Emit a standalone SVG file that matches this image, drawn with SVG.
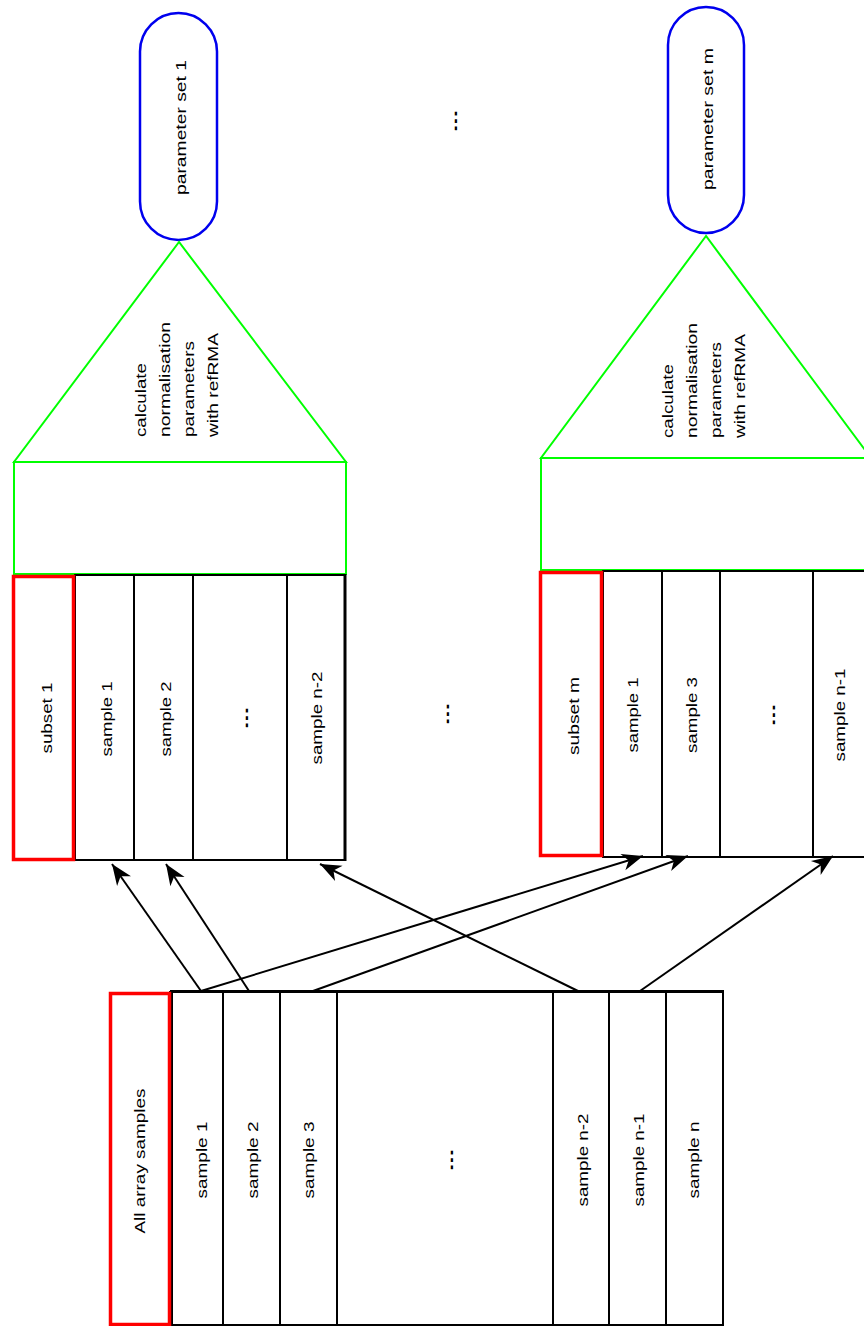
<svg xmlns="http://www.w3.org/2000/svg" width="864" height="1326" viewBox="0 0 864 1326">
<style>
text{font-family:"Liberation Sans",Arial,sans-serif;font-size:15px;fill:#000}
.c{text-anchor:middle}
.s{text-anchor:start}
.dots{font-weight:bold;text-anchor:middle}
.cell{fill:#fff;stroke:#000;stroke-width:2}
.red{fill:#fff;stroke:#f00;stroke-width:3.5}
.grn{fill:#fff;stroke:#00ff00;stroke-width:2}
.blu{fill:#fff;stroke:#0000ee;stroke-width:2.5}
.arr{fill:none;stroke:#000;stroke-width:2;marker-end:url(#ah)}
</style>
<defs>
<marker id="ah" markerUnits="userSpaceOnUse" markerWidth="26" markerHeight="22" viewBox="-23 -11 26 22" refX="0" refY="0" orient="auto">
<path d="M0,0 L-21,-8.5 L-15,0 L-21,8.5 Z" fill="#000"/>
</marker>
</defs>
<rect width="864" height="1326" fill="#fff"/>

<g id="param1">
<rect class="blu" x="140" y="13" width="77" height="227" rx="38.5"/>
<text class="c" transform="translate(186,127.5) rotate(-90)" textLength="135" lengthAdjust="spacingAndGlyphs">parameter set 1</text>
</g>
<g id="paramm">
<rect class="blu" x="668" y="7" width="76" height="226" rx="38"/>
<text class="c" transform="translate(713,119) rotate(-90)" textLength="142" lengthAdjust="spacingAndGlyphs">parameter set m</text>
</g>
<g id="dots-top"><text class="dots" transform="translate(457,121) rotate(-90)" textLength="22" lengthAdjust="spacingAndGlyphs">...</text></g>

<g id="calc1">
<polygon class="grn" points="179,242 14,462 346,462"/>
<rect class="grn" x="14" y="462" width="332" height="112"/>
<g transform="translate(146,437) rotate(-90)">
<text class="s" x="0" y="0" textLength="74" lengthAdjust="spacingAndGlyphs">calculate</text>
<text class="s" x="0" y="24" textLength="115" lengthAdjust="spacingAndGlyphs">normalisation</text>
<text class="s" x="0" y="48" textLength="96" lengthAdjust="spacingAndGlyphs">parameters</text>
<text class="s" x="0" y="72" textLength="104" lengthAdjust="spacingAndGlyphs">with refRMA</text>
</g>
</g>
<g id="calcm">
<polygon class="grn" points="706,236 541,458 871,458"/>
<rect class="grn" x="541" y="458" width="332" height="112"/>
<g transform="translate(673,438) rotate(-90)">
<text class="s" x="0" y="0" textLength="74" lengthAdjust="spacingAndGlyphs">calculate</text>
<text class="s" x="0" y="24" textLength="115" lengthAdjust="spacingAndGlyphs">normalisation</text>
<text class="s" x="0" y="48" textLength="96" lengthAdjust="spacingAndGlyphs">parameters</text>
<text class="s" x="0" y="72" textLength="104" lengthAdjust="spacingAndGlyphs">with refRMA</text>
</g>
</g>

<g id="subset1">
<rect class="cell" x="75" y="575" width="59" height="285"/>
<rect class="cell" x="134" y="575" width="59" height="285"/>
<rect class="cell" x="193" y="575" width="94" height="285"/>
<rect class="cell" x="287" y="575" width="58" height="285"/>
<line x1="345" y1="574" x2="345" y2="861" stroke="#000" stroke-width="3"/>
<rect class="red" x="13.5" y="576.5" width="60" height="283"/>
<text class="c" transform="translate(52,718) rotate(-90)" textLength="71" lengthAdjust="spacingAndGlyphs">subset 1</text>
<text class="c" transform="translate(112,719) rotate(-90)" textLength="75" lengthAdjust="spacingAndGlyphs">sample 1</text>
<text class="c" transform="translate(171,719) rotate(-90)" textLength="75" lengthAdjust="spacingAndGlyphs">sample 2</text>
<text class="dots" transform="translate(248,718) rotate(-90)" textLength="22" lengthAdjust="spacingAndGlyphs">...</text>
<text class="c" transform="translate(322,718) rotate(-90)" textLength="93" lengthAdjust="spacingAndGlyphs">sample n-2</text>
</g>

<g id="dots-mid"><text class="dots" transform="translate(449,714) rotate(-90)" textLength="22" lengthAdjust="spacingAndGlyphs">...</text></g>

<g id="subsetm">
<rect class="cell" x="603" y="571" width="59" height="286"/>
<rect class="cell" x="662" y="571" width="58" height="286"/>
<rect class="cell" x="720" y="571" width="93" height="286"/>
<rect class="cell" x="813" y="571" width="59" height="286"/>
<rect class="red" x="540.5" y="572.5" width="61" height="283"/>
<text class="c" transform="translate(579,716) rotate(-90)" textLength="78" lengthAdjust="spacingAndGlyphs">subset m</text>
<text class="c" transform="translate(638,715) rotate(-90)" textLength="75" lengthAdjust="spacingAndGlyphs">sample 1</text>
<text class="c" transform="translate(697,715) rotate(-90)" textLength="76" lengthAdjust="spacingAndGlyphs">sample 3</text>
<text class="dots" transform="translate(775,715) rotate(-90)" textLength="22" lengthAdjust="spacingAndGlyphs">...</text>
<text class="c" transform="translate(845,715) rotate(-90)" textLength="93" lengthAdjust="spacingAndGlyphs">sample n-1</text>
</g>

<g id="all-samples">
<rect class="cell" x="170" y="992" width="553" height="333" stroke-width="2"/>
<rect class="cell" x="172" y="992" width="51" height="333"/>
<rect class="cell" x="223" y="992" width="57" height="333"/>
<rect class="cell" x="280" y="992" width="57" height="333"/>
<rect class="cell" x="553" y="992" width="56" height="333"/>
<rect class="cell" x="609" y="992" width="57" height="333"/>
<rect class="cell" x="666" y="992" width="57" height="333"/>
<line x1="170" y1="991.5" x2="724" y2="991.5" stroke="#000" stroke-width="3"/>
<rect class="red" x="110.5" y="993.5" width="59" height="331"/>
<text class="c" transform="translate(145,1161) rotate(-90)" textLength="145" lengthAdjust="spacingAndGlyphs">All array samples</text>
<text class="c" transform="translate(207,1160) rotate(-90)" textLength="77" lengthAdjust="spacingAndGlyphs">sample 1</text>
<text class="c" transform="translate(258,1160) rotate(-90)" textLength="77" lengthAdjust="spacingAndGlyphs">sample 2</text>
<text class="c" transform="translate(314,1160) rotate(-90)" textLength="77" lengthAdjust="spacingAndGlyphs">sample 3</text>
<text class="dots" transform="translate(453,1160) rotate(-90)" textLength="22" lengthAdjust="spacingAndGlyphs">...</text>
<text class="c" transform="translate(588,1160) rotate(-90)" textLength="93" lengthAdjust="spacingAndGlyphs">sample n-2</text>
<text class="c" transform="translate(644,1160) rotate(-90)" textLength="93" lengthAdjust="spacingAndGlyphs">sample n-1</text>
<text class="c" transform="translate(699,1160) rotate(-90)" textLength="77" lengthAdjust="spacingAndGlyphs">sample n</text>
</g>

<g id="connectors">
<line class="arr" x1="201" y1="991" x2="112" y2="864"/>
<line class="arr" x1="249" y1="991" x2="166" y2="864"/>
<line class="arr" x1="578" y1="991" x2="320" y2="864"/>
<line class="arr" x1="201" y1="991" x2="643" y2="856"/>
<line class="arr" x1="313" y1="991" x2="688" y2="856"/>
<line class="arr" x1="640" y1="991" x2="833" y2="856"/>
</g>
</svg>
